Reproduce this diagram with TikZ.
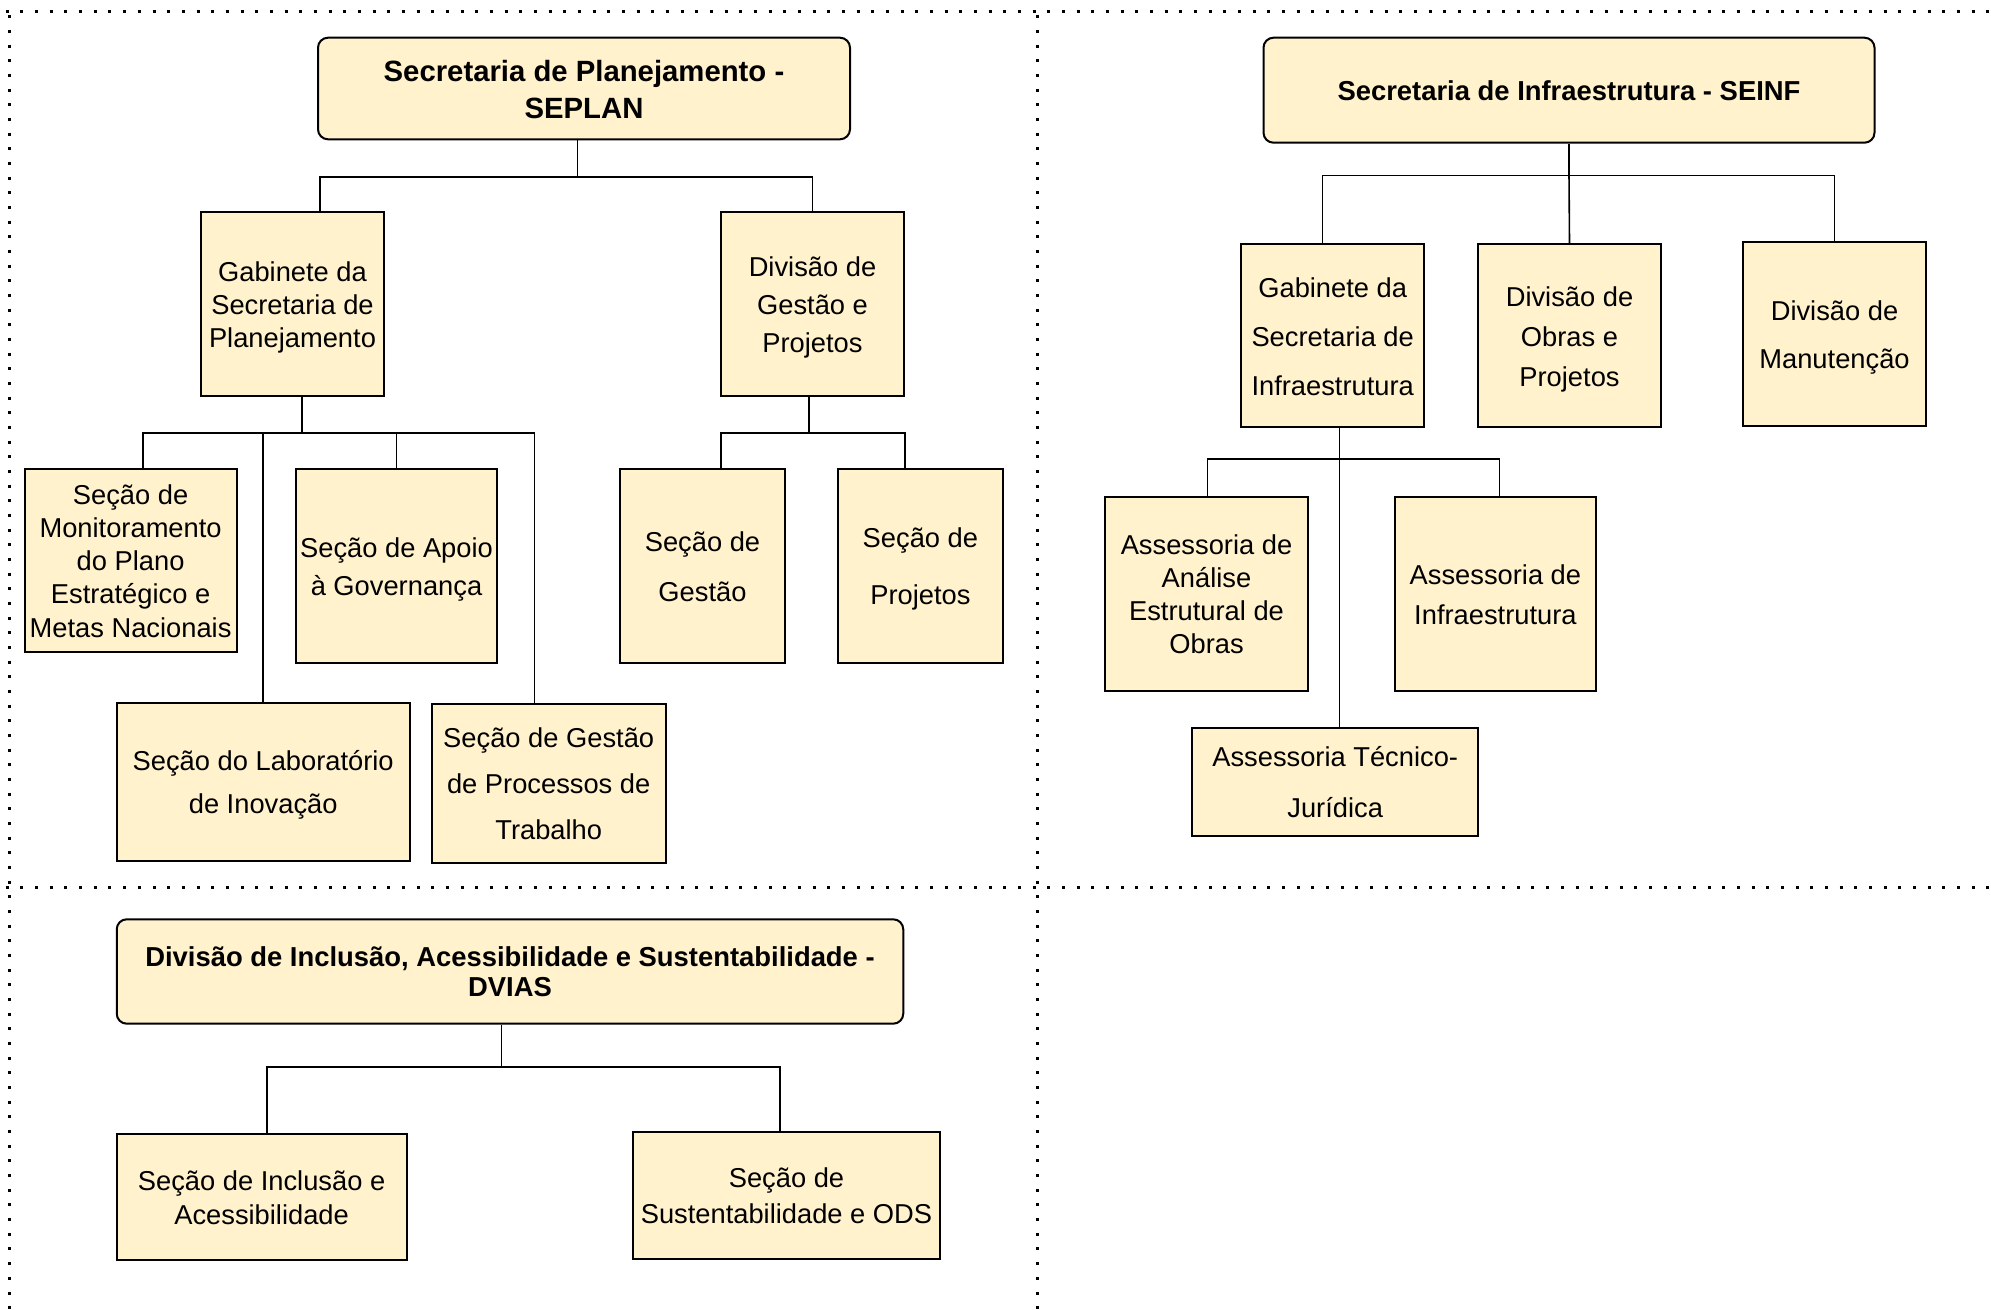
\documentclass[tikz,border=0pt]{standalone}
\usepackage{fontspec}
\usepackage{array}
\setmainfont{Liberation Sans}
\definecolor{boxfill}{HTML}{FFF2CC}
\newcommand{\lh}[1]{\fontsize{27.3}{#1}\selectfont}
\newcommand{\hd}[2]{\fontsize{#1}{#2}\selectfont\bfseries}
% one line of box text: baseline placed as in the drawing
\newcommand{\st}{\rule[\dimexpr 0.38em-0.5\ht\strutbox-0.5\dp\strutbox\relax]{0pt}{\dimexpr\ht\strutbox+\dp\strutbox\relax}}
\newcommand{\tx}[1]{{\renewcommand{\arraystretch}{0}\begin{tabular}{@{}>{\st}c@{}}#1\end{tabular}}}

\begin{document}
\begin{tikzpicture}[x=1pt, y=-1pt,
  unitbox/.style={rectangle, draw=black, line width=2pt, fill=boxfill, inner sep=0pt},
  headbox/.style={unitbox, rounded corners=10pt},
  conn/.style={line width=1.6pt},
  gridline/.style={line width=3pt, dash pattern=on 3pt off 11.67pt}]

  \useasboundingbox (0,0) rectangle (1991,1309);

  % dotted panel lines
  \draw[gridline] (5.8,11.7) -- (1991,11.7);
  \draw[gridline] (5.8,887.3) -- (1991,887.3);
  \draw[gridline] (9.3,15.2) -- (9.3,1309);
  \draw[gridline] (1037.3,15.2) -- (1037.3,1309);

  % SEPLAN
  \node[headbox, minimum width=532pt, minimum height=101.6pt, font=\hd{29.3}{37}] (seplan) at (584,88.5) {\tx{Secretaria de Planejamento -\\SEPLAN}};
  \node[unitbox, minimum width=183pt, minimum height=184.3pt, font=\lh{33}] (gabplan) at (292.5,303.8) {\tx{Gabinete da\\Secretaria de\\Planejamento}};
  \node[unitbox, minimum width=183pt, minimum height=184.3pt, font=\lh{38}] (divgp) at (812.5,303.8) {\tx{Divisão de\\Gestão e\\Projetos}};
  \node[unitbox, minimum width=212.2pt, minimum height=183.3pt, font=\lh{33.3}] (secmon) at (130.6,560.3) {\tx{Seção de\\Monitoramento\\do Plano\\Estratégico e\\Metas Nacionais}};
  \node[unitbox, minimum width=201.5pt, minimum height=194.6pt, font=\lh{37.7}] (secapoio) at (396.5,566) {\tx{Seção de Apoio\\à Governança}};
  \node[unitbox, minimum width=293.1pt, minimum height=158pt, font=\lh{43}] (seclab) at (263.2,782) {\tx{Seção do Laboratório\\de Inovação}};
  \node[unitbox, minimum width=234.1pt, minimum height=158.7pt, font=\lh{46}] (secproc) at (548.7,783.6) {\tx{Seção de Gestão\\de Processos de\\Trabalho}};
  \node[unitbox, minimum width=165pt, minimum height=194.6pt, font=\lh{50}] (secgest) at (702.5,566) {\tx{Seção de\\Gestão}};
  \node[unitbox, minimum width=164.7pt, minimum height=194.6pt, font=\lh{57}] (secproj) at (920.4,566) {\tx{Seção de\\Projetos}};

  \draw[conn] ([xshift=-6.4pt]seplan.south) -- ++(0,36.4) coordinate (busplan);
  \draw[conn] ([xshift=27.5pt]gabplan.north) |- (busplan) -| (divgp.north);
  \draw[conn] ([xshift=9.5pt]gabplan.south) -- ++(0,36) coordinate (busgab);
  \draw[conn] ([xshift=12.6pt]secmon.north) |- (busgab) -| ([xshift=-14.2pt]secproc.north);
  \draw[conn] (seclab.north) -- (seclab.north |- busgab);
  \draw[conn] (secapoio.north) -- (secapoio.north |- busgab);
  \draw[conn] ([xshift=-3.5pt]divgp.south) -- ++(0,36) coordinate (busdiv);
  \draw[conn] ([xshift=18.5pt]secgest.north) |- (busdiv) -| ([xshift=-15.4pt]secproj.north);

  % SEINF
  \node[headbox, minimum width=611pt, minimum height=105pt, font=\hd{27.4}{33}] (seinf) at (1569,90.2) {\tx{Secretaria de Infraestrutura - SEINF}};
  \node[unitbox, minimum width=182.6pt, minimum height=183pt, font=\lh{49}] (gabinf) at (1332.7,335.8) {\tx{Gabinete da\\Secretaria de\\Infraestrutura}};
  \node[unitbox, minimum width=183pt, minimum height=183pt, font=\lh{40}] (divobras) at (1569.5,335.8) {\tx{Divisão de\\Obras e\\Projetos}};
  \node[unitbox, minimum width=182.6pt, minimum height=183.7pt, font=\lh{47.7}] (divman) at (1834.5,334.2) {\tx{Divisão de\\Manutenção}};
  \node[unitbox, minimum width=202.2pt, minimum height=194.6pt, font=\lh{33}] (assanal) at (1206.5,594) {\tx{Assessoria de\\Análise\\Estrutural de\\Obras}};
  \node[unitbox, minimum width=201.6pt, minimum height=194.6pt, font=\lh{39.3}] (assinfra) at (1495.4,594) {\tx{Assessoria de\\Infraestrutura}};
  \node[unitbox, minimum width=285.6pt, minimum height=107.4pt, font=\lh{51}] (asstec) at (1335.2,782) {\tx{Assessoria Técnico-\\Jurídica}};

  \draw[conn] (seinf.south) -- ++(0,31.6) coordinate (businf);
  \draw[conn] ([xshift=-10.4pt]gabinf.north) |- (businf) -| (divman.north);
  \draw[conn] (businf) -- (divobras.north);
  \draw[conn] ([xshift=6.7pt]gabinf.south) -- ([xshift=6.7pt]gabinf.south |- asstec.north);
  \draw[conn] ([xshift=1pt]assanal.north) -- ++(0,-36.7) -| ([xshift=4pt]assinfra.north);

  % DVIAS
  \node[headbox, minimum width=786.5pt, minimum height=104.4pt, font=\hd{27.4}{30}] (dvias) at (510,971.5) {\tx{Divisão de Inclusão, Acessibilidade e Sustentabilidade -\\DVIAS}};
  \node[unitbox, minimum width=289.8pt, minimum height=126pt, font=\lh{34}] (secincl) at (261.6,1197) {\tx{Seção de Inclusão e\\Acessibilidade}};
  \node[unitbox, minimum width=307.7pt, minimum height=126.7pt, font=\lh{36}] (secsust) at (786.5,1195.4) {\tx{Seção de\\Sustentabilidade e ODS}};

  \draw[conn] ([xshift=-8.7pt]dvias.south) -- ++(0,42.3) coordinate (busdvias);
  \draw[conn] ([xshift=5.6pt]secincl.north) |- (busdvias) -| ([xshift=-6.7pt]secsust.north);
\end{tikzpicture}
\end{document}
